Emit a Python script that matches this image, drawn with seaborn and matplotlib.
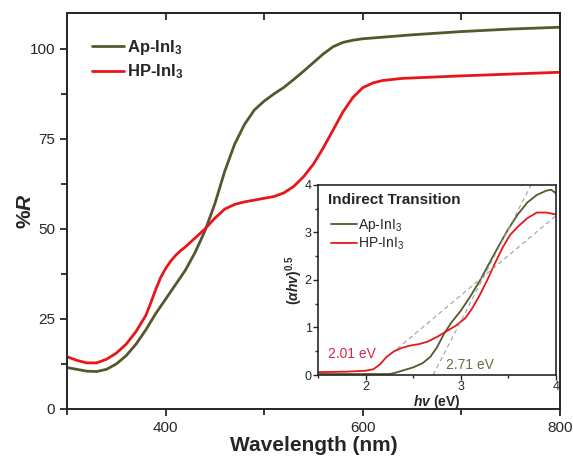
import numpy as np
import pandas as pd
import seaborn as sns
import matplotlib.pyplot as plt
from matplotlib.ticker import MultipleLocator

sns.set_style("ticks")
plt.rcParams['font.family'] = ['Liberation Sans', 'DejaVu Sans']
plt.rcParams['mathtext.fontset'] = 'custom'
plt.rcParams['mathtext.rm'] = 'Liberation Sans'
plt.rcParams['mathtext.it'] = 'Liberation Sans:italic'
plt.rcParams['mathtext.bf'] = 'Liberation Sans:bold'
plt.rcParams['mathtext.bfit'] = 'Liberation Sans:bold:italic'

olive = "#57572c"
red = "#e8161b"

# reflectance spectra (main panel)
wl_ap = [300, 310, 320, 330, 340, 350, 360, 370, 380, 390, 400, 410, 420, 430, 440, 450,
         460, 470, 480, 490, 500, 510, 520, 530, 540, 550, 560, 570, 580, 590, 600, 650,
         700, 750, 800]
r_ap = [11.5, 11.0, 10.5, 10.4, 11.0, 12.5, 14.8, 18.0, 22.0, 26.5, 30.5, 34.5, 38.5, 43.5,
        49.5, 57.0, 66.0, 73.5, 79.0, 83.0, 85.5, 87.5, 89.3, 91.5, 93.8, 96.2, 98.6, 100.6,
        101.8, 102.4, 102.8, 103.9, 104.8, 105.5, 106.0]
wl_hp = [300, 310, 320, 330, 340, 350, 360, 370, 380, 385, 390, 395, 400, 405, 410, 415, 420,
         430, 440, 450, 460, 470, 480, 490, 500, 510, 520, 530, 540, 550, 560, 570, 580, 590,
         600, 610, 620, 640, 700, 750, 800]
r_hp = [14.5, 13.5, 12.8, 12.8, 13.8, 15.5, 18.0, 21.5, 26.0, 29.5, 33.2, 36.5, 39.0, 41.0,
        42.6, 43.9, 45.0, 47.5, 50.0, 53.0, 55.5, 56.8, 57.5, 58.0, 58.5, 59.0, 60.0, 61.8,
        64.5, 68.0, 72.5, 77.5, 82.5, 86.5, 89.2, 90.5, 91.2, 91.8, 92.5, 93.0, 93.5]

# Tauc plot (inset)
ev_ap = [1.5, 2.0, 2.25, 2.3, 2.4, 2.5, 2.6, 2.68, 2.75, 2.82, 2.9, 3.0, 3.1, 3.2, 3.3, 3.4,
         3.5, 3.6, 3.7, 3.8, 3.9, 3.95, 4.0]
t_ap = [0.02, 0.02, 0.02, 0.04, 0.1, 0.16, 0.25, 0.38, 0.58, 0.85, 1.1, 1.35, 1.65, 1.98, 2.35,
        2.72, 3.07, 3.38, 3.63, 3.79, 3.88, 3.9, 3.83]
ev_hp = [1.5, 1.8, 2.0, 2.08, 2.15, 2.22, 2.3, 2.38, 2.47, 2.56, 2.65, 2.75, 2.85, 2.95, 3.05,
         3.12, 3.2, 3.28, 3.36, 3.44, 3.52, 3.6, 3.7, 3.8, 3.9, 4.0]
t_hp = [0.06, 0.07, 0.09, 0.12, 0.22, 0.38, 0.5, 0.57, 0.62, 0.65, 0.7, 0.8, 0.92, 1.04, 1.2,
        1.4, 1.68, 2.0, 2.35, 2.68, 2.95, 3.12, 3.3, 3.42, 3.42, 3.38]

# tangent lines for the band gaps
fit_ap_x = [2.71, 3.74]
fit_ap_y = [0.0, 4.0]
fit_hp_x = [2.33, 4.0]
fit_hp_y = [0.55, 3.35]

df_ap = pd.DataFrame({'x': wl_ap, 'y': r_ap})
df_hp = pd.DataFrame({'x': wl_hp, 'y': r_hp})

fig = plt.figure(figsize=(5.73, 4.59), dpi=100)
ax = fig.add_axes([0.117, 0.109, 0.86, 0.863])

sns.lineplot(data=df_ap, x='x', y='y', ax=ax, color=olive, lw=2, label=r'Ap-InI$_\mathbf{3}$')
sns.lineplot(data=df_hp, x='x', y='y', ax=ax, color=red, lw=2, label=r'HP-InI$_\mathbf{3}$')

ax.set_xlim(300, 800)
ax.set_ylim(0, 110)
ax.xaxis.set_major_locator(MultipleLocator(200))
ax.xaxis.set_minor_locator(MultipleLocator(100))
ax.yaxis.set_major_locator(MultipleLocator(25))
ax.yaxis.set_minor_locator(MultipleLocator(12.5))
ax.tick_params(which='both', direction='out', labelsize=11, width=1.3)
ax.tick_params(which='major', length=5)
ax.tick_params(which='minor', length=4)
for sp in ax.spines.values():
    sp.set_linewidth(1.4)
    sp.set_visible(True)

top = ax.secondary_xaxis('top')
top.xaxis.set_major_locator(MultipleLocator(200))
top.xaxis.set_minor_locator(MultipleLocator(100))
top.tick_params(which='both', direction='in', length=5, width=1.3, labeltop=False)
top.spines['top'].set_linewidth(1.4)

ax.set_xlabel('Wavelength (nm)', fontsize=15, fontweight='bold', labelpad=1)
ax.set_ylabel(r'%$\mathbfit{R}$', fontsize=15, fontweight='bold')
ax.yaxis.set_label_coords(-0.065, 0.5)

leg = ax.legend(loc='upper left', bbox_to_anchor=(0.02, 0.975), frameon=False,
                prop={'weight': 'bold', 'size': 12}, handlelength=1.9, handletextpad=0.2,
                labelspacing=0.35)

# inset
ins = fig.add_axes([0.555, 0.183, 0.415, 0.414])
sns.lineplot(x=ev_ap, y=t_ap, ax=ins, color=olive, lw=1.3, label=r'Ap-InI$_3$')
sns.lineplot(x=ev_hp, y=t_hp, ax=ins, color=red, lw=1.3, label=r'HP-InI$_3$')
ins.plot(fit_ap_x, fit_ap_y, ls='--', color='#a0a0a0', lw=0.8, dashes=(4, 3))
ins.plot(fit_hp_x, fit_hp_y, ls='--', color='#a0a0a0', lw=0.8, dashes=(4, 3))
ins.set_xlim(1.5, 4.0)
ins.set_ylim(0, 4.0)
ins.xaxis.set_major_locator(MultipleLocator(1))
ins.xaxis.set_minor_locator(MultipleLocator(0.5))
ins.yaxis.set_major_locator(MultipleLocator(1))
ins.yaxis.set_minor_locator(MultipleLocator(0.5))
ins.tick_params(which='both', direction='out', labelsize=9, width=1, pad=1)
ins.tick_params(which='major', length=3.5)
ins.tick_params(which='minor', length=2.5)
for sp in ins.spines.values():
    sp.set_linewidth(1.2)
    sp.set_visible(True)
ins.set_xlabel(r'$\mathbfit{hv}$ (eV)', fontsize=10, fontweight='bold', labelpad=0)
ins.set_ylabel(r'$\mathbf{(}\mathbfit{\alpha hv}\mathbf{)}^{\mathbf{0.5}}$', fontsize=10,
               fontweight='bold', labelpad=0)
ins.text(0.04, 0.92, 'Indirect Transition', transform=ins.transAxes, fontsize=11,
         fontweight='bold', va='center', ha='left')
ins.legend(loc='upper left', bbox_to_anchor=(0.03, 0.86), frameon=False, fontsize=10,
           handlelength=1.9, handletextpad=0.1, labelspacing=0.1, borderaxespad=0)
ins.text(1.86, 0.44, '2.01 eV', color='#d4264a', fontsize=10, ha='center', va='center')
ins.text(3.10, 0.21, '2.71 eV', color='#6b6b3b', fontsize=10, ha='center', va='center')

fig.savefig('out.png', dpi=100)
